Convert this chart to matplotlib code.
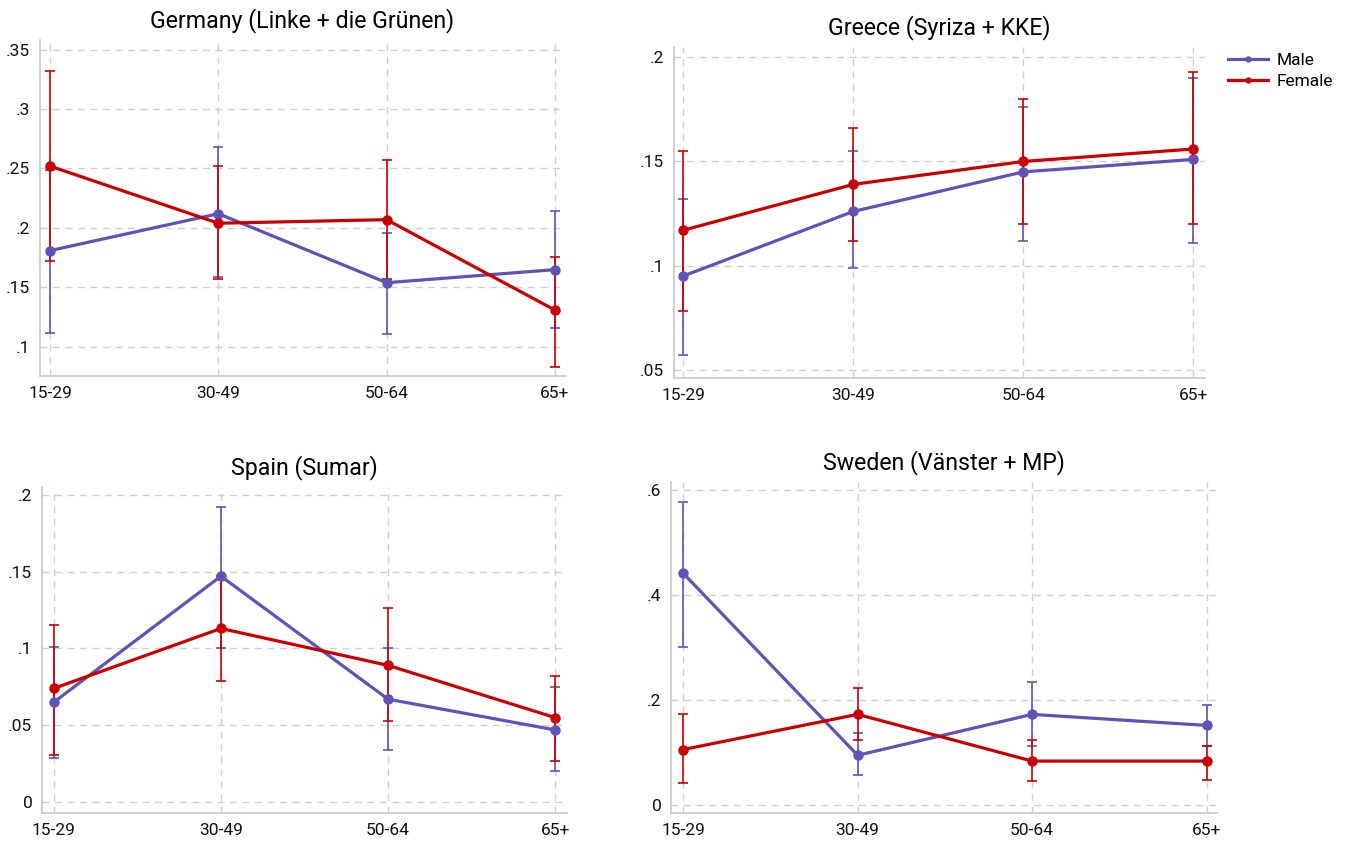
import matplotlib.pyplot as plt

plt.rcParams['font.family'] = ['Roboto', 'DejaVu Sans']

# Data
ages = ["15-29", "30-49", "50-64", "65+"]
titles = ["Germany (Linke + die Grünen)", "Greece (Syriza + KKE)",
          "Spain (Sumar)", "Sweden (Vänster + MP)"]

male_mean = [
    [0.181, 0.212, 0.154, 0.165],
    [0.095, 0.126, 0.145, 0.151],
    [0.065, 0.147, 0.067, 0.047],
    [0.442, 0.095, 0.173, 0.152],
]
male_lo = [
    [0.112, 0.159, 0.111, 0.116],
    [0.057, 0.099, 0.112, 0.111],
    [0.029, 0.100, 0.034, 0.020],
    [0.301, 0.057, 0.113, 0.112],
]
male_hi = [
    [0.249, 0.268, 0.196, 0.214],
    [0.132, 0.155, 0.176, 0.190],
    [0.101, 0.192, 0.100, 0.075],
    [0.578, 0.137, 0.234, 0.191],
]
female_mean = [
    [0.252, 0.204, 0.207, 0.131],
    [0.117, 0.139, 0.150, 0.156],
    [0.074, 0.113, 0.089, 0.055],
    [0.106, 0.173, 0.084, 0.084],
]
female_lo = [
    [0.172, 0.157, 0.157, 0.083],
    [0.078, 0.112, 0.120, 0.120],
    [0.031, 0.079, 0.053, 0.027],
    [0.042, 0.124, 0.046, 0.047],
]
female_hi = [
    [0.332, 0.252, 0.257, 0.176],
    [0.155, 0.166, 0.180, 0.193],
    [0.115, 0.147, 0.126, 0.082],
    [0.173, 0.223, 0.124, 0.113],
]

yticks = [
    [0.1, 0.15, 0.2, 0.25, 0.3, 0.35],
    [0.05, 0.1, 0.15, 0.2],
    [0, 0.05, 0.1, 0.15, 0.2],
    [0, 0.2, 0.4, 0.6],
]
ytick_labels = [
    [".1", ".15", ".2", ".25", ".3", ".35"],
    [".05", ".1", ".15", ".2"],
    ["0", ".05", ".1", ".15", ".2"],
    ["0", ".2", ".4", ".6"],
]
ylims = [(0.0756, 0.358), (0.046, 0.205), (-0.007, 0.205), (-0.015, 0.616)]
xlims = [(-0.06, 3.06), (-0.055, 3.07), (-0.07, 3.07), (-0.07, 3.06)]

W, H = 1348, 846
# axes boxes in pixels: left, top, right, bottom
boxes = [(40, 40, 565, 376), (674, 47, 1205, 378),
         (42, 487, 567, 813), (671, 482, 1217, 813)]

male_col = "#6152b8"
female_col = "#cc0000"
grid_col = "#d0d0d0"

fig = plt.figure(figsize=(W / 100, H / 100), dpi=100)
x = list(range(len(ages)))

for i in range(4):
    l, t, r, b = boxes[i]
    ax = fig.add_axes([l / W, 1 - b / H, (r - l) / W, (b - t) / H])

    for mean, lo, hi, col, lab in [
        (male_mean[i], male_lo[i], male_hi[i], male_col, "Male"),
        (female_mean[i], female_lo[i], female_hi[i], female_col, "Female"),
    ]:
        err = [[m - a for m, a in zip(mean, lo)], [c - m for m, c in zip(mean, hi)]]
        ax.errorbar(x, mean, yerr=err, fmt="none", ecolor=col, elinewidth=1.2,
                    capsize=3.5, capthick=1.2, zorder=3)
        ax.plot(x, mean, color=col, lw=2.3, marker="o", markersize=6.5,
                label=lab, zorder=4)

    ax.set_xlim(*xlims[i])
    ax.set_ylim(*ylims[i])
    ax.set_xticks(x)
    ax.set_xticklabels(ages)
    ax.set_yticks(yticks[i])
    ax.set_yticklabels(ytick_labels[i])
    ax.tick_params(length=0, labelsize=12.5, pad=7, colors="#111111")
    ax.grid(True, color=grid_col, linestyle=(0, (5, 4)), lw=1)
    ax.set_axisbelow(True)
    for s in ["top", "right"]:
        ax.spines[s].set_visible(False)
    for s in ["left", "bottom"]:
        ax.spines[s].set_color("#c8c8c8")
        ax.spines[s].set_linewidth(1.2)
    ax.set_title(titles[i], fontsize=16.7, pad=9)

    if i == 1:
        h, labs = ax.get_legend_handles_labels()
        fig.legend(h, labs, loc="upper left", bbox_to_anchor=(1212 / W, 1 - 37 / H),
                   frameon=False, fontsize=12.5, handlelength=2.3, markerscale=0.55,
                   labelspacing=0.35, handletextpad=0.5)

plt.savefig("out.png", dpi=100)
